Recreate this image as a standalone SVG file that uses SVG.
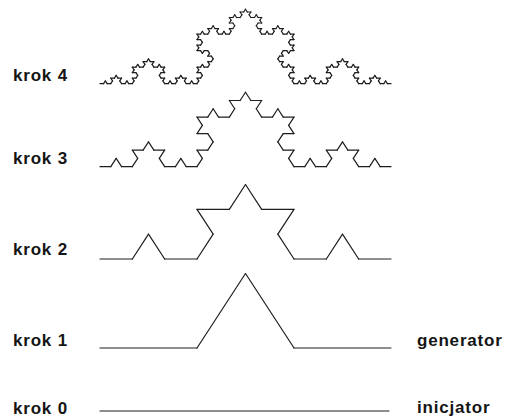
<svg xmlns="http://www.w3.org/2000/svg" width="508" height="418" viewBox="0 0 508 418">
  <style>
    .lbl { font-family: "Liberation Sans", Arial, sans-serif; font-weight: bold; font-size: 17px; letter-spacing: 0.8px; fill: #151515; }
    .curve { fill: none; stroke: #1e1e1e; stroke-width: 1.2; stroke-linecap: round; stroke-linejoin: round; }
  </style>
  <defs>
    <!-- unit segment (0,0)-(1,0); stroke kept in screen pixels -->
    <path id="k0" d="M0 0H1" vector-effect="non-scaling-stroke"/>
    <!-- each level: four copies of the previous one at 1/3 scale -->
    <g id="k1">
      <use href="#k0" transform="scale(0.3333333)"/>
      <use href="#k0" transform="translate(0.3333333 0) rotate(-60) scale(0.3333333)"/>
      <use href="#k0" transform="translate(0.5 -0.2886751) rotate(60) scale(0.3333333)"/>
      <use href="#k0" transform="translate(0.6666667 0) scale(0.3333333)"/>
    </g>
    <g id="k2">
      <use href="#k1" transform="scale(0.3333333)"/>
      <use href="#k1" transform="translate(0.3333333 0) rotate(-60) scale(0.3333333)"/>
      <use href="#k1" transform="translate(0.5 -0.2886751) rotate(60) scale(0.3333333)"/>
      <use href="#k1" transform="translate(0.6666667 0) scale(0.3333333)"/>
    </g>
    <g id="k3">
      <use href="#k2" transform="scale(0.3333333)"/>
      <use href="#k2" transform="translate(0.3333333 0) rotate(-60) scale(0.3333333)"/>
      <use href="#k2" transform="translate(0.5 -0.2886751) rotate(60) scale(0.3333333)"/>
      <use href="#k2" transform="translate(0.6666667 0) scale(0.3333333)"/>
    </g>
    <g id="k4">
      <use href="#k3" transform="scale(0.3333333)"/>
      <use href="#k3" transform="translate(0.3333333 0) rotate(-60) scale(0.3333333)"/>
      <use href="#k3" transform="translate(0.5 -0.2886751) rotate(60) scale(0.3333333)"/>
      <use href="#k3" transform="translate(0.6666667 0) scale(0.3333333)"/>
    </g>
  </defs>

  <!-- Koch curve, step 4 -->
  <g id="krok-4">
    <text class="lbl" x="13" y="81">krok 4</text>
    <use class="curve" href="#k4" transform="translate(100 83.7) scale(291 258)"/>
  </g>

  <!-- step 3 -->
  <g id="krok-3">
    <text class="lbl" x="13" y="163.5">krok 3</text>
    <use class="curve" href="#k3" transform="translate(100 166.7) scale(291 258)"/>
  </g>

  <!-- step 2 -->
  <g id="krok-2">
    <text class="lbl" x="13" y="254.5">krok 2</text>
    <use class="curve" href="#k2" transform="translate(100 259) scale(291 258)"/>
  </g>

  <!-- step 1: generator -->
  <g id="krok-1">
    <text class="lbl" x="13" y="346">krok 1</text>
    <use class="curve" href="#k1" transform="translate(100 348) scale(291 258)"/>
    <text class="lbl" x="417" y="346">generator</text>
  </g>

  <!-- step 0: initiator -->
  <g id="krok-0">
    <text class="lbl" x="13" y="414">krok 0</text>
    <line class="curve" x1="100" y1="411" x2="389" y2="411"/>
    <text class="lbl" x="417" y="413">inicjator</text>
  </g>
</svg>
